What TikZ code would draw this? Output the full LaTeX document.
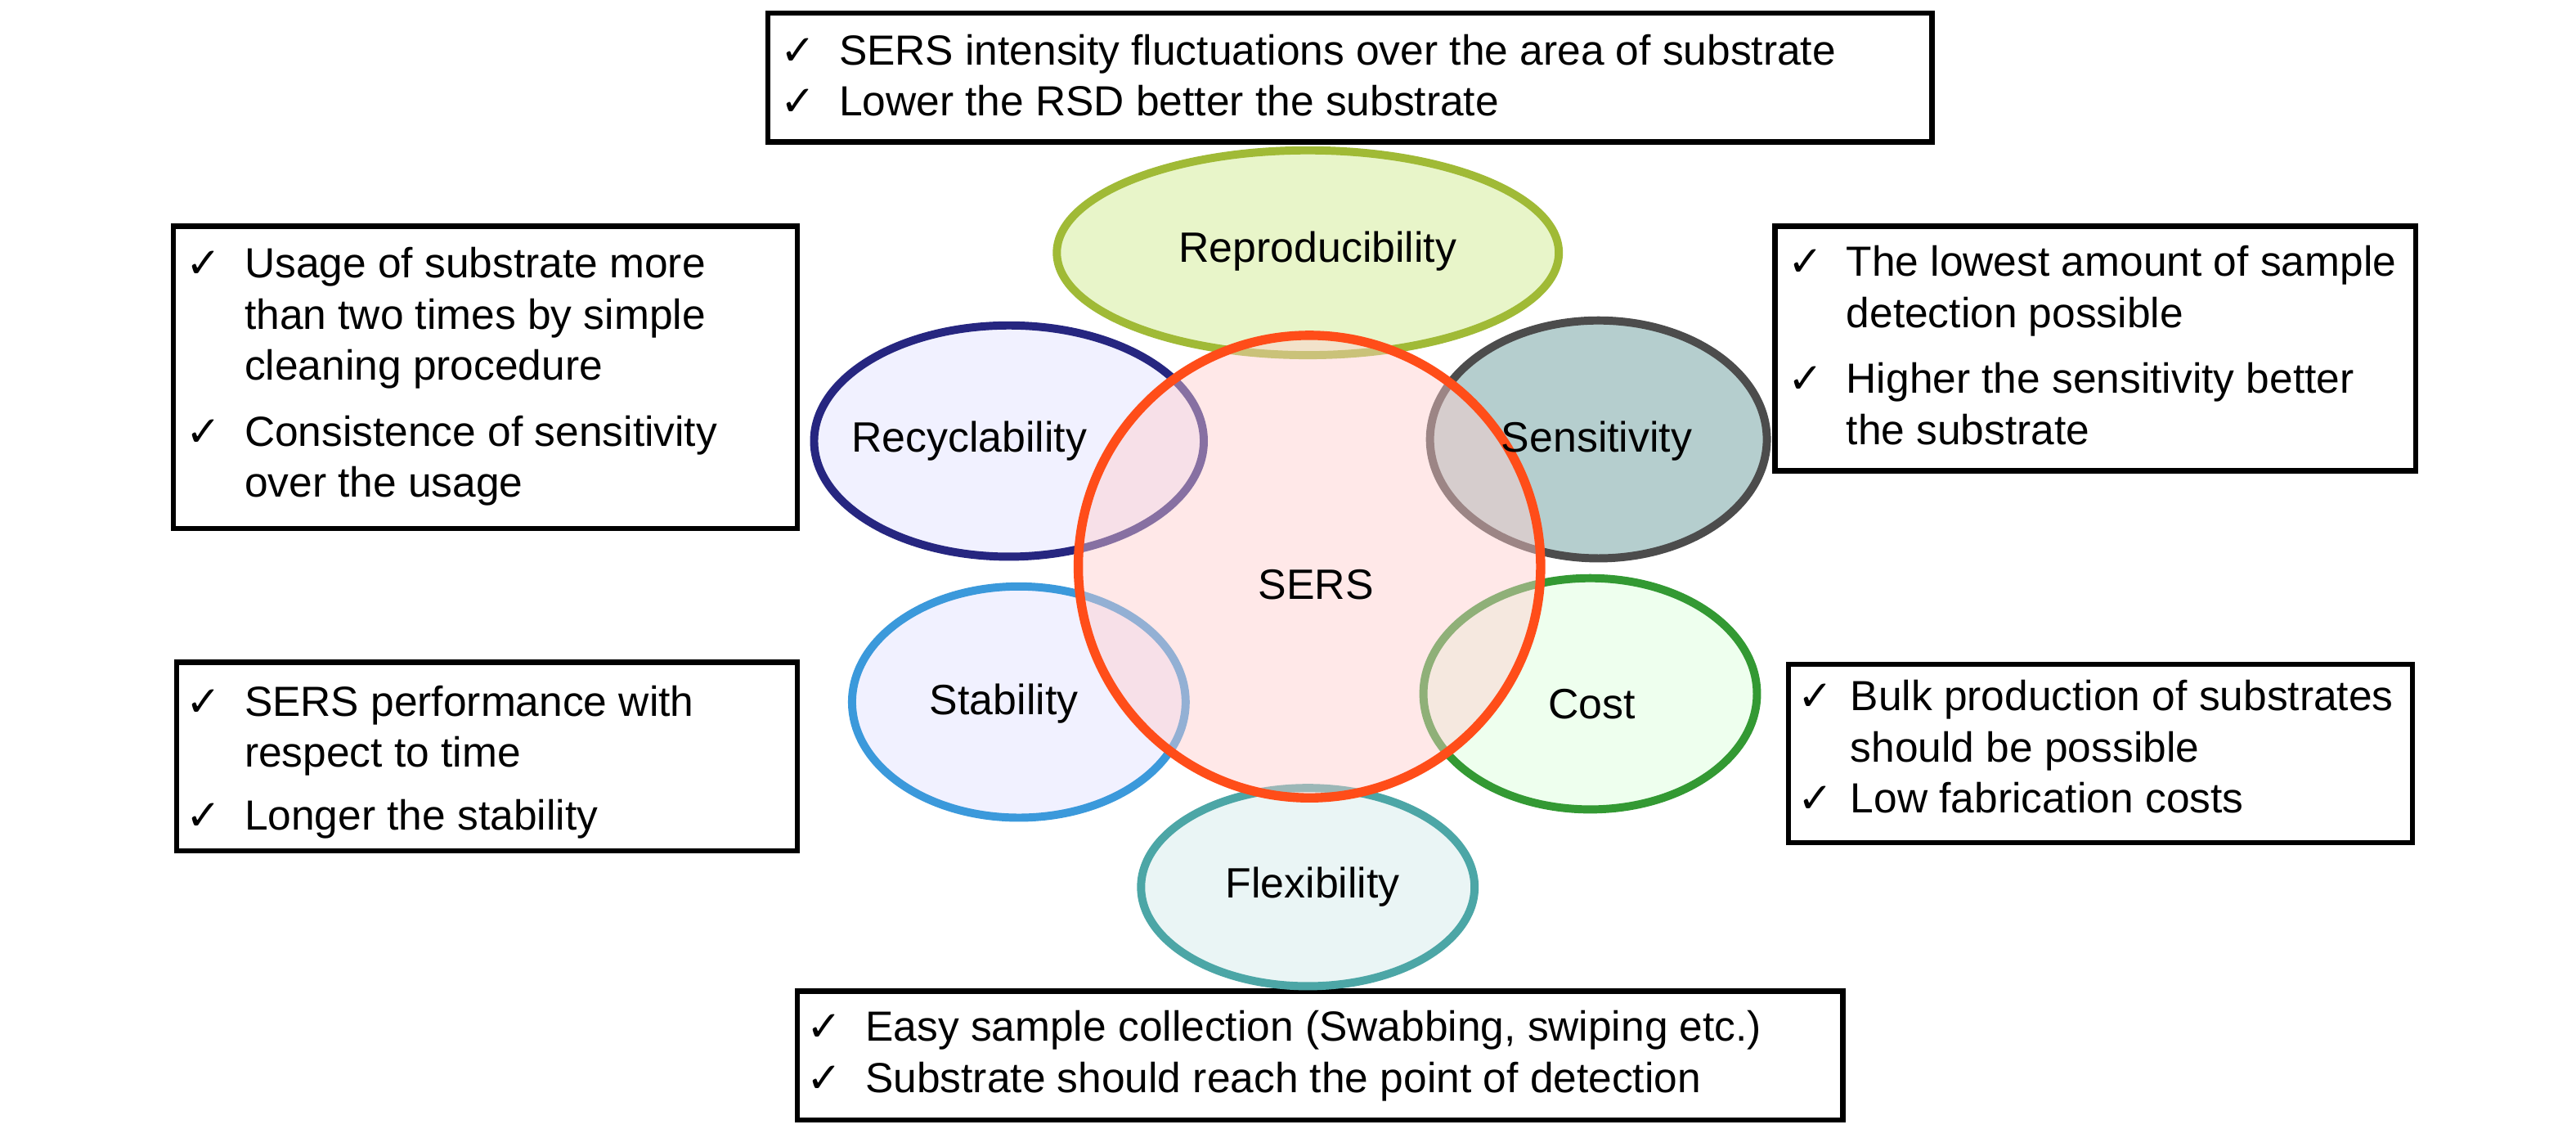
\documentclass[tikz,border=0pt]{standalone}
\usepackage{fontspec}
\usetikzlibrary{fit}
\setmainfont{Liberation Sans}
\newfontfamily\ckfont{DejaVu Sans}
\newcommand{\ck}{{\ckfont ✓}}
\begin{document}
\begin{tikzpicture}[x=0.01cm,y=-0.01cm,
  txt/.style={anchor=north west,inner sep=0pt,font=\fontsize{7.25}{8.8}\selectfont},
  lbl/.style={font=\fontsize{7.3}{8}\selectfont},
  ell/.style={line width=1.4pt,fill opacity=0.55}]
\useasboundingbox (0,0) rectangle (1560,683);
\newcommand{\bx}[5]{\node[draw,line width=0.9pt,inner sep=0pt,fit={(#1,#2)(#3,#4)}] (#5) {};}
\bx{465}{8}{1170}{86}{btop}
\bx{105}{137}{483}{320}{blt}
\bx{1075}{137}{1463}{285}{brt}
\bx{107}{401}{483}{515}{blb}
\bx{1083}{402}{1461}{510}{brb}
\bx{483}{600}{1116}{678}{bbot}
\node[txt] (ttop) at (472,17) {\begin{tabular}{@{}l@{\hspace{4pt}}l@{}}\ck & SERS intensity fluctuations over the area of substrate\\ \ck & Lower the RSD better the substrate\end{tabular}};
\node[txt] (tlt) at (112,146) {\begin{tabular}{@{}l@{\hspace{4pt}}l@{}}\ck & Usage of substrate more\\ & than two times by simple\\ & cleaning procedure\\[2.5pt] \ck & Consistence of sensitivity\\ & over the usage\end{tabular}};
\node[txt] (trt) at (1082,145) {\begin{tabular}{@{}l@{\hspace{4pt}}l@{}}\ck & The lowest amount of sample\\ & detection possible\\[2.5pt] \ck & Higher the sensitivity better\\ & the substrate\end{tabular}};
\node[txt] (tlb) at (112,411) {\begin{tabular}{@{}l@{\hspace{4pt}}l@{}}\ck & SERS performance with\\ & respect to time\\[2pt] \ck & Longer the stability\end{tabular}};
\node[txt] (trb) at (1088,408) {\begin{tabular}{@{}l@{\hspace{3pt}}l@{}}\ck & Bulk production of substrates\\ & should be possible\\ \ck & Low fabrication costs\end{tabular}};
\node[txt] (tbot) at (488,608) {\begin{tabular}{@{}l@{\hspace{4pt}}l@{}}\ck & Easy sample collection (Swabbing, swiping etc.)\\ \ck & Substrate should reach the point of detection\end{tabular}};
% ellipses
\draw[ell,draw=yellow!70!green!80!black,fill=yellow!60!green!40] (792,153) ellipse [x radius=152,y radius=62];
\draw[ell,draw=blue!50!black!70!gray,fill=blue!10] (611,267) ellipse [x radius=118,y radius=70];
\draw[ell,draw=black!70,fill=teal!50!gray!70] (968,266) ellipse [x radius=102,y radius=72];
\draw[ell,draw=cyan!70!blue!80,fill=blue!10] (617,425) ellipse [x radius=101,y radius=70];
\draw[ell,draw=green!50!black!80,fill=green!12] (963,420) ellipse [x radius=101,y radius=70];
\draw[ell,draw=teal!70,fill=teal!15] (792,537) ellipse [x radius=101,y radius=60];
\draw[line width=1.6pt,draw=red!55!orange!90,fill=red!20,fill opacity=0.45] (793,343) circle [radius=140];
\node[lbl] (nrep) at (798,152) {Reproducibility};
\node[lbl] (nrec) at (587,267) {Recyclability};
\node[lbl] (nsen) at (967,267) {Sensitivity};
\node[lbl] (nsers) at (797,354) {SERS};
\node[lbl] (nsta) at (608,426) {Stability};
\node[lbl] (ncos) at (964,426) {Cost};
\node[lbl] (nfle) at (795,537) {Flexibility};
\end{tikzpicture}
\end{document}
